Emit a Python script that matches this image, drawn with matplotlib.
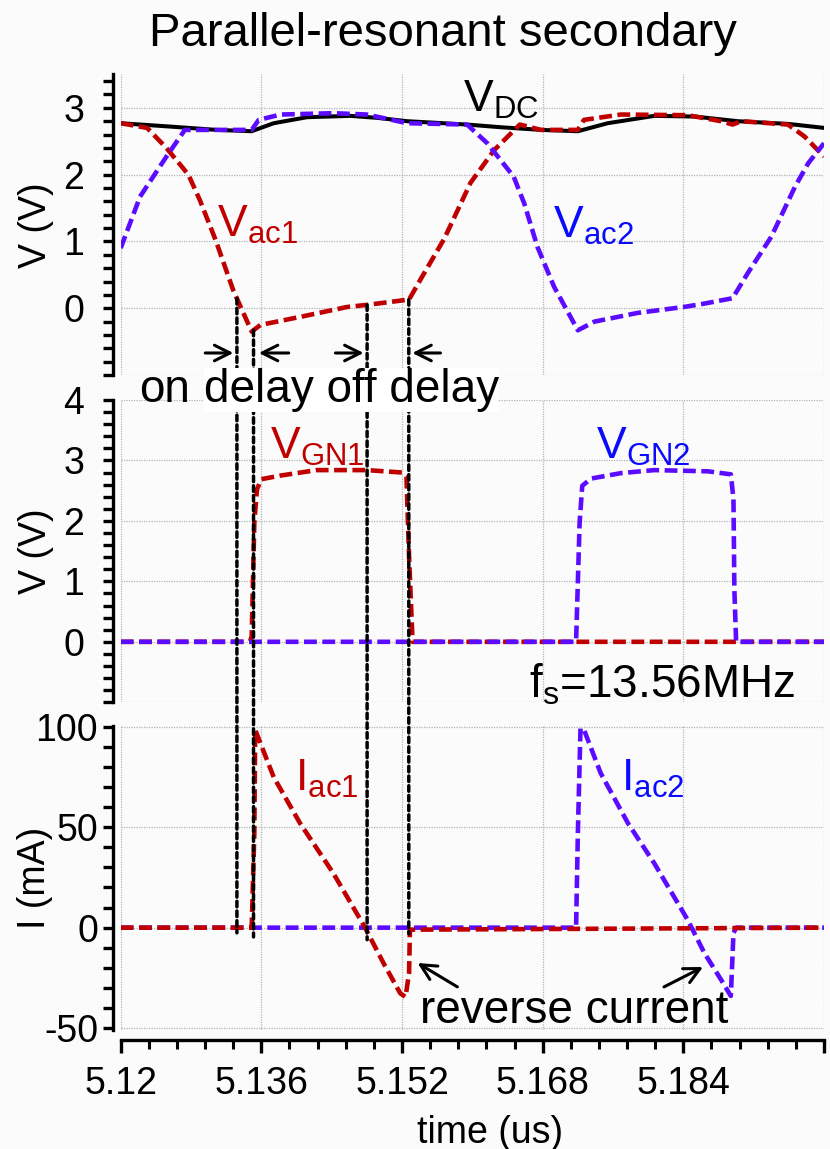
import numpy as np
import matplotlib.pyplot as plt
from matplotlib.patches import ConnectionPatch
from matplotlib.ticker import MultipleLocator, FixedLocator

plt.rcParams['font.family'] = ['Liberation Sans', 'DejaVu Sans']
plt.rcParams['mathtext.fontset'] = 'custom'
plt.rcParams['mathtext.rm'] = 'Liberation Sans'
plt.rcParams['mathtext.it'] = 'Liberation Sans'
plt.rcParams['axes.unicode_minus'] = False

# ---- data (time in us) ----
t_vdc = [5.1200, 5.1256, 5.1309, 5.1349, 5.1374, 5.1412, 5.1461, 5.1492, 5.1526, 5.1594,
         5.1632, 5.1678, 5.1720, 5.1754, 5.1807, 5.1853, 5.1902, 5.1959, 5.2000]
vdc = [2.77, 2.72, 2.67, 2.65, 2.77, 2.86, 2.88, 2.85, 2.80, 2.75,
       2.71, 2.67, 2.65, 2.77, 2.88, 2.87, 2.80, 2.76, 2.70]

t_vac1 = [5.1200, 5.1230, 5.1252, 5.1277, 5.1290, 5.1308, 5.1328, 5.1349, 5.1359, 5.1404,
          5.1458, 5.1480, 5.1528, 5.1541, 5.1568, 5.1598, 5.1625, 5.1654, 5.1678, 5.1720,
          5.1727, 5.1769, 5.1845, 5.1883, 5.1896, 5.1906, 5.1959, 5.1978, 5.2000]
vac1 = [2.77, 2.70, 2.40, 2.00, 1.62, 1.02, 0.27, -0.35, -0.25, -0.13,
        0.02, 0.05, 0.13, 0.43, 1.04, 1.88, 2.37, 2.75, 2.67, 2.67,
        2.82, 2.90, 2.89, 2.80, 2.75, 2.80, 2.75, 2.57, 2.27]

t_vac2 = [5.1200, 5.1222, 5.1252, 5.1273, 5.1309, 5.1349, 5.1357, 5.1382, 5.1442, 5.1480,
          5.1526, 5.1594, 5.1617, 5.1647, 5.1659, 5.1674, 5.1693, 5.1720, 5.1739, 5.1788,
          5.1841, 5.1864, 5.1896, 5.1913, 5.1940, 5.1967, 5.1982, 5.2000]
vac2 = [0.90, 1.67, 2.27, 2.67, 2.67, 2.67, 2.82, 2.90, 2.92, 2.90,
        2.77, 2.75, 2.47, 1.97, 1.57, 0.92, 0.32, -0.33, -0.20, -0.07,
        0.02, 0.07, 0.15, 0.52, 1.07, 1.82, 2.17, 2.47]

t_vgn1 = [5.1200, 5.1347, 5.1349, 5.1352, 5.1355, 5.1360, 5.1382, 5.1423, 5.1480, 5.1520,
          5.1525, 5.1528, 5.1532, 5.2000]
vgn1 = [0, 0, 0.09, 1.97, 2.52, 2.69, 2.75, 2.84, 2.84, 2.80, 2.74, 1.42, 0.0, 0]

t_vgn2 = [5.1200, 5.1716, 5.1718, 5.1722, 5.1725, 5.1735, 5.1769, 5.1807, 5.1868, 5.1894,
          5.1897, 5.1898, 5.1900, 5.2000]
vgn2 = [0, 0, 0.01, 1.97, 2.58, 2.70, 2.79, 2.84, 2.82, 2.77, 2.36, 0.87, 0.0, 0]

t_iac1 = [5.1200, 5.1349, 5.1352, 5.1353, 5.1374, 5.1404, 5.1442, 5.1478, 5.1499, 5.1518,
          5.1524, 5.1528, 5.1529, 5.2000]
iac1 = [0, 0, 47, 98.5, 75, 52, 27, 0, -17.7, -32.7, -34.5, -22.7, -1, 0]

t_iac2 = [5.1200, 5.1718, 5.1720, 5.1723, 5.1727, 5.1746, 5.1777, 5.1807, 5.1845, 5.1864,
          5.1883, 5.1894, 5.1897, 5.1900, 5.2000]
iac2 = [0, 0, 47, 99.3, 98.5, 76.9, 52, 32, 3.8, -12.7, -26, -34, -2.8, 0, 0]

# switching instants marked by the dotted lines, and where they stop in the current plot
t_delay = [5.13322, 5.13511, 5.14803, 5.15277]
i_delay_end = [-2.6, -4.6, -6.0, -3.0]

x_major = [5.12, 5.136, 5.152, 5.168, 5.184, 5.2]
x_labels = ['5.12', '5.136', '5.152', '5.168', '5.184', '']

red = '#c00000'
blue = '#5b0bff'
red_txt = '#c00000'
blue_txt = '#0a0aff'
dash = (0, (2.8, 1.2))
lw_d = 3.3

fig = plt.figure(figsize=(8.3, 11.49), dpi=100, facecolor='#fbfbfb')
ax1 = fig.add_axes([0.1454, 0.6736, 0.8474, 0.2616])
ax2 = fig.add_axes([0.1454, 0.3888, 0.8474, 0.2631])
ax3 = fig.add_axes([0.1454, 0.1035, 0.8474, 0.2648])

for ax in (ax1, ax2, ax3):
    ax.set_facecolor('none')
    ax.set_xlim(5.12, 5.2)
    for s in ('top', 'right', 'bottom'):
        ax.spines[s].set_visible(False)
    ax.spines['left'].set_position(('outward', 5.8))
    ax.spines['left'].set_linewidth(2.4)
    ax.xaxis.set_major_locator(FixedLocator(x_major))
    ax.xaxis.set_minor_locator(MultipleLocator(0.0032))
    ax.set_xticklabels(x_labels)
    ax.tick_params(axis='y', which='both', direction='out', length=7.5, width=2.4,
                   labelsize=27, pad=13)
    ax.grid(True, which='major', color='#b4b4b4', linestyle=(0, (1, 1)), linewidth=0.9)
    ax.set_axisbelow(True)

for ax in (ax1, ax2):
    ax.tick_params(axis='x', which='both', bottom=False, labelbottom=False)

ax3.spines['bottom'].set_visible(True)
ax3.spines['bottom'].set_position(('outward', 7.5))
ax3.spines['bottom'].set_linewidth(2.4)
ax3.tick_params(axis='x', which='major', direction='out', length=9.5, width=2.4,
                labelsize=27, pad=9)
ax3.tick_params(axis='x', which='minor', direction='out', length=6.5, width=2.2)

# top: rectifier voltages
ax1.set_ylim(-1, 3.5)
ax1.yaxis.set_major_locator(FixedLocator([-1, 0, 1, 2, 3]))
ax1.set_yticklabels(['', '0', '1', '2', '3'])
ax1.yaxis.set_minor_locator(MultipleLocator(0.2))
ax1.plot(t_vdc, vdc, color='k', lw=2.9, zorder=3)
ax1.plot(t_vac1, vac1, color=red, lw=lw_d, ls=dash, zorder=4)
ax1.plot(t_vac2, vac2, color=blue, lw=lw_d, ls=dash, zorder=5)
ax1.set_ylabel('V (V)', fontsize=27, va='center')
ax1.yaxis.set_label_coords(-0.1204, 0.5)

# middle: gate voltages
ax2.set_ylim(-1, 4)
ax2.yaxis.set_major_locator(FixedLocator([-1, 0, 1, 2, 3, 4]))
ax2.set_yticklabels(['', '0', '1', '2', '3', '4'])
ax2.yaxis.set_minor_locator(MultipleLocator(0.2))
ax2.plot(t_vgn1, vgn1, color=red, lw=lw_d, ls=dash, zorder=4)
ax2.plot(t_vgn2, vgn2, color=blue, lw=lw_d, ls=dash, zorder=5)
ax2.set_ylabel('V (V)', fontsize=27, va='center')
ax2.yaxis.set_label_coords(-0.1204, 0.5)

# bottom: currents
ax3.set_ylim(-51, 100.5)
ax3.yaxis.set_major_locator(FixedLocator([-50, 0, 50, 100]))
ax3.yaxis.set_minor_locator(MultipleLocator(10))
ax3.tick_params(axis='y', pad=3)
ax3.plot(t_iac1, iac1, color=red, lw=lw_d, ls=dash, zorder=5)
ax3.plot(t_iac2, iac2, color=blue, lw=lw_d, ls=dash, zorder=4)
ax3.set_ylabel('I (mA)', fontsize=27, va='center')
ax3.yaxis.set_label_coords(-0.1225, 0.5)
ax3.set_xlabel('time (us)', fontsize=27, va='center')
ax3.xaxis.set_label_coords(0.525, -0.338)

# dotted marker lines running through all three panels
for t, ie in zip(t_delay, i_delay_end):
    vt = np.interp(t, t_vac1, vac1)
    cp = ConnectionPatch(xyA=(t, vt), coordsA=ax1.transData, xyB=(t, ie), coordsB=ax3.transData,
                         color='k', lw=2.5, linestyle=(0, (1.6, 1.2)), zorder=2)
    fig.add_artist(cp)

# delay arrows
ay = -0.67
arr = dict(arrowstyle='->', lw=2.2, color='k', mutation_scale=28, shrinkA=0, shrinkB=0)
ax1.annotate('', xy=(t_delay[0] - 0.0004, ay), xytext=(t_delay[0] - 0.0036, ay), arrowprops=arr)
ax1.annotate('', xy=(t_delay[1] + 0.0006, ay), xytext=(t_delay[1] + 0.0040, ay), arrowprops=arr)
ax1.annotate('', xy=(t_delay[2] - 0.0004, ay), xytext=(t_delay[2] - 0.0036, ay), arrowprops=arr)
ax1.annotate('', xy=(t_delay[3] + 0.0004, ay), xytext=(t_delay[3] + 0.0036, ay), arrowprops=arr)

fig.text(5.1221, -1.41, 'on', transform=ax1.transData, fontsize=33,
         ha='left', va='baseline', zorder=6)
fig.text(5.1295, -1.41, 'delay off delay', transform=ax1.transData, fontsize=33,
         ha='left', va='baseline', zorder=6,
         bbox=dict(facecolor='white', edgecolor='none', pad=0))

# curve labels
lab = dict(fontsize=32, ha='left', va='baseline')
ax1.text(5.1589, 2.94, r'V$_{\mathrm{DC}}$', color='k', **lab)
ax1.text(5.1310, 1.07, r'V$_{\mathrm{ac1}}$', color=red_txt, **lab)
ax1.text(5.1692, 1.05, r'V$_{\mathrm{ac2}}$', color=blue_txt, **lab)
ax2.text(5.1370, 3.02, r'V$_{\mathrm{GN1}}$', color=red_txt, **lab)
ax2.text(5.17405, 3.02, r'V$_{\mathrm{GN2}}$', color=blue_txt, **lab)
ax2.text(5.1664, -0.92, r'f$_{\mathrm{s}}$=13.56MHz', color='k', fontsize=33, ha='left', va='baseline')
ax3.text(5.13986, 68, r'I$_{\mathrm{ac1}}$', color=red_txt, **lab)
ax3.text(5.1769, 68, r'I$_{\mathrm{ac2}}$', color=blue_txt, **lab)
ax3.text(5.1541, -47.5, 'reverse current', color='k', fontsize=33, ha='left', va='baseline')

# reverse current arrows
arr2 = dict(arrowstyle='->', lw=2.2, color='k', mutation_scale=28, shrinkA=0, shrinkB=0)
ax3.annotate('', xy=(5.15377, -17.6), xytext=(5.1583, -29.5), arrowprops=arr2)
ax3.annotate('', xy=(5.18624, -19.6), xytext=(5.1818, -29.5), arrowprops=arr2)

fig.text(0.534, 1 - 46 / 1149, 'Parallel-resonant secondary', fontsize=34,
         ha='center', va='baseline')

fig.savefig('out.png', dpi=100, facecolor=fig.get_facecolor())
